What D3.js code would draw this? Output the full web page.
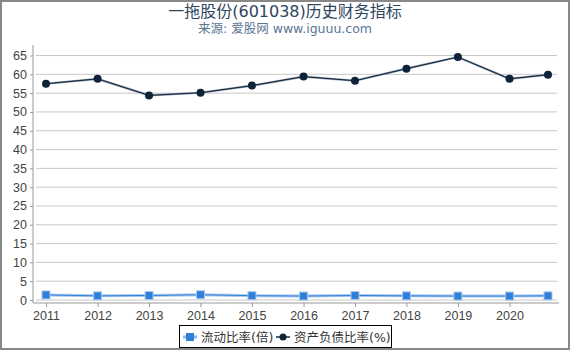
<!DOCTYPE html>
<html lang="zh">
<head>
    <meta charset="UTF-8">
    <title>一拖股份(601038)历史财务指标</title>
    <script src="https://d3js.org/d3.v7.min.js"></script>
    <style>
        body { margin: 0; font-family: "DejaVu Sans", "Noto Sans CJK SC", sans-serif; }
        .tick-label { font-size: 12.5px; fill: #444; }
        .grid line { stroke: #c8c8c8; }
    </style>
</head>
<body>
<svg id="chart"></svg>
<script>
    // report dates and values
    const dates = ["2011-12-31", "2012-12-31", "2013-12-31", "2014-12-31", "2015-12-31",
        "2016-12-31", "2017-12-31", "2018-12-31", "2019-12-31", "2020-12-31", "2021-09-30"];
    const currentRatio = [1.35, 1.1, 1.2, 1.4, 1.15, 1.05, 1.2, 1.1, 1.05, 1.05, 1.1];
    const debtRatio = [57.5, 58.8, 54.4, 55.1, 57.0, 59.4, 58.3, 61.5, 64.6, 58.8, 59.9];
    const yTicks = [0, 5, 10, 15, 20, 25, 30, 35, 40, 45, 50, 55, 60, 65];
    const xTickYears = ["2011", "2012", "2013", "2014", "2015", "2016", "2017", "2018", "2019", "2020"];
    const seriesNames = ["流动比率(倍)", "资产负债比率(%)"];

    const W = 570, H = 350;
    const parse = d3.timeParse("%Y-%m-%d");
    const pts = dates.map(parse);

    const svg = d3.select("#chart").attr("width", W).attr("height", H);

    // outer frame
    svg.append("rect").attr("x", 1).attr("y", 1).attr("width", W - 2).attr("height", H - 2)
        .attr("fill", "#fff").attr("stroke", "#888").attr("stroke-width", 2);

    // titles
    svg.append("text").attr("x", 285).attr("y", 17).attr("text-anchor", "middle")
        .style("font-size", "16px").style("fill", "#2e4560").text("一拖股份(601038)历史财务指标");
    svg.append("text").attr("x", 285).attr("y", 33).attr("text-anchor", "middle")
        .style("font-size", "12.5px").style("fill", "#5b7494").text("来源: 爱股网 www.iguuu.com");

    const plot = { left: 36, right: 557, top: 45, bottom: 300 };

    const x = d3.scaleTime()
        .domain([parse("2011-10-21"), parse("2021-12-03")])
        .range([plot.left, plot.right]);
    const y = d3.scaleLinear().domain([0, 67.8]).range([plot.bottom, plot.top]);

    // gridlines
    svg.append("g").attr("class", "grid")
        .selectAll("line").data(yTicks).enter().append("line")
        .attr("x1", plot.left).attr("x2", plot.right)
        .attr("y1", d => y(d)).attr("y2", d => y(d));

    // y axis (offset a little left of the plot)
    const yAxis = svg.append("g").attr("transform", `translate(${plot.left - 3},0)`)
        .call(d3.axisLeft(y).tickValues(yTicks).tickSize(3).tickPadding(3));
    yAxis.select(".domain").attr("stroke", "#999").attr("d", `M0,${plot.top}V${plot.bottom + 3}`);
    yAxis.selectAll(".tick line").attr("stroke", "#999");
    yAxis.selectAll("text").attr("class", "tick-label").attr("font-family", null).attr("font-size", null);

    // x axis (offset a little below)
    const xTicks = xTickYears.map(yr => parse(yr + "-12-31"));
    const xAxis = svg.append("g").attr("transform", `translate(0,${plot.bottom + 3})`)
        .call(d3.axisBottom(x).tickValues(xTicks).tickFormat(d3.timeFormat("%Y")).tickSize(4).tickPadding(4));
    xAxis.select(".domain").attr("stroke", "#999").attr("d", `M${plot.left - 3},0H${plot.right + 2}`);
    xAxis.selectAll(".tick line").attr("stroke", "#999");
    xAxis.selectAll("text").attr("class", "tick-label").attr("font-family", null).attr("font-size", null);

    const line = d3.line().x((d, i) => x(pts[i])).y(d => y(d));

    // current ratio series
    svg.append("path").datum(currentRatio).attr("d", line)
        .attr("fill", "none").attr("stroke", "#a9c9f0").attr("stroke-width", 3);
    svg.append("path").datum(currentRatio).attr("d", line)
        .attr("fill", "none").attr("stroke", "#2f7ed8").attr("stroke-width", 1);
    svg.selectAll(".sq").data(currentRatio).enter().append("rect")
        .attr("x", (d, i) => x(pts[i]) - 4).attr("y", d => y(d) - 4)
        .attr("width", 8).attr("height", 8)
        .attr("fill", "#2f7ed8").attr("stroke", "#a9c9f0").attr("stroke-width", 1);

    // debt ratio series
    svg.append("path").datum(debtRatio).attr("d", line)
        .attr("fill", "none").attr("stroke", "#8a97a5").attr("stroke-width", 2.2);
    svg.append("path").datum(debtRatio).attr("d", line)
        .attr("fill", "none").attr("stroke", "#0d233a").attr("stroke-width", 1);
    svg.selectAll(".dot").data(debtRatio).enter().append("circle")
        .attr("cx", (d, i) => x(pts[i])).attr("cy", d => y(d)).attr("r", 4)
        .attr("fill", "#0d233a");

    // legend
    const lg = svg.append("g");
    lg.append("rect").attr("x", 179.5).attr("y", 325.5).attr("width", 212).attr("height", 22)
        .attr("fill", "#fff").attr("stroke", "#000").attr("stroke-width", 1);
    lg.append("line").attr("x1", 183).attr("x2", 197).attr("y1", 337).attr("y2", 337)
        .attr("stroke", "#8fb8ea").attr("stroke-width", 3);
    lg.append("rect").attr("x", 186).attr("y", 333).attr("width", 8).attr("height", 8).attr("fill", "#2f7ed8");
    lg.append("text").attr("x", 201).attr("y", 341.5).style("font-size", "12.5px").style("fill", "#333")
        .text(seriesNames[0]);
    lg.append("line").attr("x1", 276).attr("x2", 290).attr("y1", 337).attr("y2", 337)
        .attr("stroke", "#55606d").attr("stroke-width", 2);
    lg.append("circle").attr("cx", 283).attr("cy", 337).attr("r", 3.5).attr("fill", "#0d233a");
    lg.append("text").attr("x", 294).attr("y", 341.5).style("font-size", "12.5px").style("fill", "#333")
        .text(seriesNames[1]);
</script>
</body>
</html>
